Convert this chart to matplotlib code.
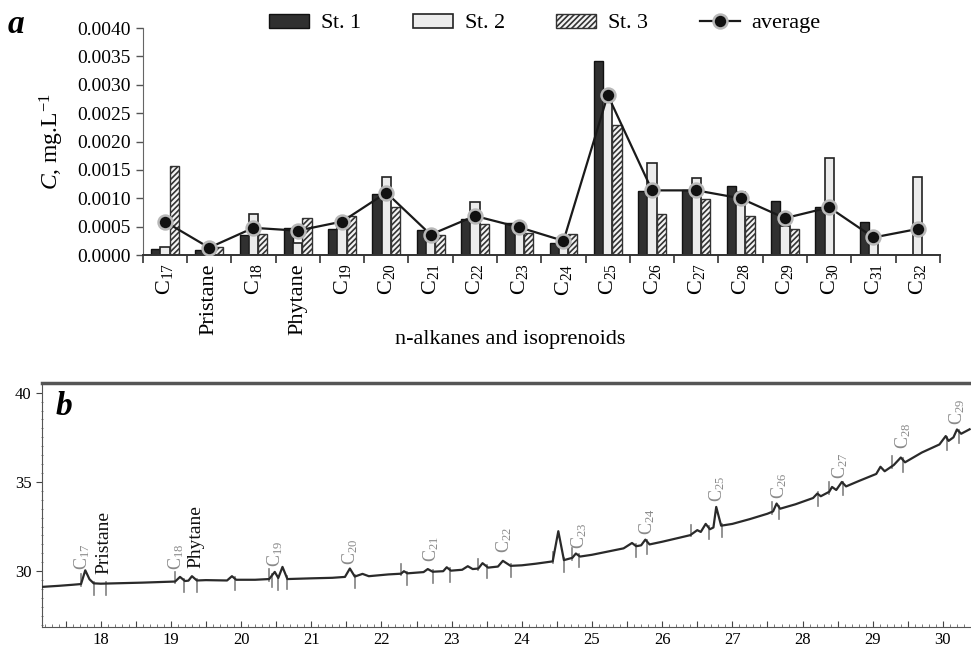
import numpy as np
import matplotlib
matplotlib.use("Agg")
import matplotlib.pyplot as plt
from matplotlib.ticker import MultipleLocator, FixedLocator, NullFormatter, FuncFormatter

plt.rcParams['font.family'] = ['Liberation Serif', 'DejaVu Serif']
plt.rcParams['mathtext.fontset'] = 'custom'
plt.rcParams['mathtext.rm'] = 'Liberation Serif'
plt.rcParams['mathtext.it'] = 'Liberation Serif:italic'
plt.rcParams['hatch.color'] = '#333333'
plt.rcParams['hatch.linewidth'] = 1.2

# ---- panel a data (mg/L) ----
compounds = ['C$_{17}$', 'Pristane', 'C$_{18}$', 'Phytane', 'C$_{19}$', 'C$_{20}$',
             'C$_{21}$', 'C$_{22}$', 'C$_{23}$', 'C$_{24}$', 'C$_{25}$', 'C$_{26}$',
             'C$_{27}$', 'C$_{28}$', 'C$_{29}$', 'C$_{30}$', 'C$_{31}$', 'C$_{32}$']
st1 = [0.00011, 0.00009, 0.00035, 0.00047, 0.00046, 0.00107, 0.00045, 0.00063, 0.00057,
       0.00022, 0.00342, 0.00113, 0.00114, 0.00121, 0.00096, 0.00084, 0.00059, 0.0]
st2 = [0.00014, 0.00016, 0.00072, 0.00022, 0.00062, 0.00138, 0.00025, 0.00094, 0.00049,
       0.00017, 0.00272, 0.00163, 0.00136, 0.00112, 0.00052, 0.00171, 0.00035, 0.00137]
st3 = [0.00157, 0.00014, 0.00038, 0.00065, 0.00068, 0.00084, 0.00035, 0.00055, 0.00039,
       0.00038, 0.00229, 0.00072, 0.00098, 0.00069, 0.00046, 0.0, 0.0, 0.0]
average = [0.00059, 0.00013, 0.00048, 0.00043, 0.00059, 0.00110, 0.00036, 0.00069, 0.00049,
           0.00025, 0.00282, 0.00114, 0.00114, 0.00100, 0.00065, 0.00084, 0.00031, 0.00046]

# ---- panel b data: chromatogram trace (retention time, min ; signal) ----
trace_t = [17.16, 17.40, 17.60, 17.72, 17.78, 17.84, 17.90, 18.00, 18.30, 18.60, 18.90,
           19.06, 19.13, 19.20, 19.25, 19.30, 19.37, 19.50, 19.80, 19.87, 19.93, 20.20,
           20.40, 20.48, 20.53, 20.59, 20.66, 21.00, 21.30, 21.48, 21.55, 21.62, 21.73,
           21.82, 22.10, 22.28, 22.32, 22.37, 22.60, 22.66, 22.73, 22.88, 22.93, 22.99,
           23.15, 23.23, 23.30, 23.38, 23.44, 23.52, 23.66, 23.73, 23.84, 24.00, 24.20,
           24.44, 24.52, 24.60, 24.72, 24.77, 24.83, 25.00, 25.20, 25.45, 25.57, 25.63,
           25.70, 25.76, 25.82, 26.00, 26.25, 26.40, 26.50, 26.55, 26.62, 26.68, 26.73,
           26.77, 26.84, 27.00, 27.25, 27.50, 27.58, 27.63, 27.68, 27.90, 28.15, 28.21,
           28.26, 28.38, 28.42, 28.48, 28.56, 28.62, 28.80, 29.05, 29.11, 29.17, 29.30,
           29.40, 29.46, 29.70, 29.95, 30.04, 30.08, 30.15, 30.20, 30.26, 30.38]
trace_s = [29.12, 29.18, 29.24, 29.28, 30.05, 29.55, 29.32, 29.30, 29.33, 29.36, 29.40,
           29.42, 29.68, 29.45, 29.47, 29.72, 29.48, 29.50, 29.48, 29.72, 29.52, 29.52,
           29.56, 29.96, 29.62, 30.24, 29.56, 29.60, 29.63, 29.68, 30.15, 29.70, 29.85,
           29.72, 29.82, 29.86, 30.00, 29.88, 29.95, 30.12, 29.97, 30.00, 30.22, 30.03,
           30.08, 30.28, 30.12, 30.15, 30.45, 30.20, 30.26, 30.58, 30.30, 30.33, 30.42,
           30.55, 32.24, 30.62, 30.75, 30.99, 30.82, 30.92, 31.08, 31.28, 31.58, 31.40,
           31.45, 31.77, 31.50, 31.65, 31.88, 32.02, 32.30, 32.20, 32.65, 32.35, 32.45,
           33.60, 32.55, 32.65, 32.92, 33.22, 33.35, 33.79, 33.50, 33.75, 34.10, 34.35,
           34.20, 34.45, 34.72, 34.55, 35.00, 34.75, 35.05, 35.45, 35.85, 35.60, 35.95,
           36.37, 36.10, 36.65, 37.10, 37.57, 37.30, 37.50, 37.94, 37.70, 37.95]
marks_up = [17.72, 19.06, 20.40, 22.28, 23.38, 24.44, 24.72, 26.41, 27.56, 28.38, 29.28]
marks_down = [17.90, 18.08, 19.19, 19.37, 19.91, 20.44, 20.53, 20.65, 21.62, 22.37, 22.73,
              22.98, 23.50, 23.85, 24.60, 24.81, 25.62, 25.79, 26.66, 26.85, 27.67, 28.22,
              28.58, 29.43, 30.06, 30.23]
peak_labels = ['C$_{17}$', 'Pristane', 'C$_{18}$', 'Phytane', 'C$_{19}$', 'C$_{20}$',
               'C$_{21}$', 'C$_{22}$', 'C$_{23}$', 'C$_{24}$', 'C$_{25}$', 'C$_{26}$',
               'C$_{27}$', 'C$_{28}$', 'C$_{29}$']
label_t = [17.74, 18.04, 19.07, 19.36, 20.48, 21.55, 22.71, 23.75, 24.82, 25.79, 26.79,
           27.67, 28.54, 29.44, 30.20]
label_s = [30.07, 29.85, 30.07, 30.20, 30.25, 30.35, 30.53, 31.00, 31.27, 32.00, 33.87,
           34.06, 35.18, 36.82, 38.17]

fig = plt.figure(figsize=(9.71, 6.54), dpi=100)

# ================= panel a =================
ax = fig.add_axes([0.147, 0.610, 0.821, 0.347])
x = np.arange(len(compounds))
w = 0.21
b1 = ax.bar(x - w, st1, w, color='#303030', edgecolor='#111111', linewidth=1.0, label='St. $\\mathit{1}$')
b2 = ax.bar(x, st2, w, color='#ececec', edgecolor='#222222', linewidth=1.2, label='St. $\\mathit{2}$')
b3 = ax.bar(x + w, st3, w, color='#f4f4f4', edgecolor='#333333', linewidth=1.0,
            hatch='//////', label='St. $\\mathit{3}$')
ln, = ax.plot(x, average, '-o', color='#1a1a1a', lw=1.6, ms=10, mfc='#111111',
              mec='#b8b8b8', mew=1.8, zorder=4, label='average')

ax.set_xlim(-0.5, len(compounds) - 0.5)
ax.set_ylim(0, 0.004)
ax.yaxis.set_major_locator(MultipleLocator(0.0005))
ax.yaxis.set_major_formatter(FuncFormatter(lambda v, p: '%.4f' % v))
ax.xaxis.set_major_locator(FixedLocator(np.arange(-0.5, len(compounds), 1.0)))
ax.xaxis.set_major_formatter(NullFormatter())
ax.xaxis.set_minor_locator(FixedLocator(x))
ax.set_xticklabels(compounds, minor=True, rotation=90, fontsize=16)
ax.tick_params(axis='x', which='minor', length=0, pad=6)
ax.tick_params(axis='x', which='major', length=6, width=1.2, color='#333333', direction='out')
ax.tick_params(axis='y', labelsize=14, length=5, width=1.0, color='#555555')
for s in ['top', 'right']:
    ax.spines[s].set_visible(False)
ax.spines['left'].set_color('#666666')
ax.spines['bottom'].set_color('#333333')
ax.spines['bottom'].set_linewidth(1.4)
ax.set_ylabel('$\\mathit{C}$, mg.L$^{-1}$', fontsize=17, labelpad=8)
ax.set_xlabel('n-alkanes and isoprenoids', fontsize=16)
ax.xaxis.set_label_coords((510 - 143) / 797, -0.33)
fig.text(0.008, 0.962, 'a', fontsize=24, fontweight='bold', style='italic', va='center')

fig.legend(handles=[b1, b2, b3, ln], loc='center', bbox_to_anchor=(0.561, 0.964), ncol=4,
           frameon=False, fontsize=16, handlelength=1.8, handleheight=0.6,
           columnspacing=2.3, handletextpad=0.5)

# ================= panel b =================
bx = fig.add_axes([0.043, 0.042, 0.957, 0.372])
bx.plot(trace_t, trace_s, color='#2a2a2a', lw=1.6, zorder=3)
for t in marks_up:
    yb = np.interp(t, trace_t, trace_s)
    bx.plot([t, t], [yb - 0.1, yb + 0.55], color='#808080', lw=1.2, zorder=2)
for t in marks_down:
    yb = np.interp(t, trace_t, trace_s)
    bx.plot([t, t], [yb + 0.1, yb - 0.65], color='#808080', lw=1.2, zorder=2)
for lab, t, s in zip(peak_labels, label_t, label_s):
    if lab in ('Pristane', 'Phytane'):
        bx.text(t, s, lab, rotation=90, ha='center', va='bottom', fontsize=14, color='#111111')
    else:
        bx.text(t, s, lab, rotation=90, ha='center', va='bottom', fontsize=13, color='#8a8a8a')

bx.set_xlim(17.16, 30.4)
bx.set_ylim(26.9, 40.53)
bx.xaxis.set_major_locator(MultipleLocator(0.5))
bx.xaxis.set_major_formatter(FuncFormatter(lambda v, p: '%d' % v if abs(v - round(v)) < 1e-6 else ''))
bx.xaxis.set_minor_locator(MultipleLocator(0.1))
bx.yaxis.set_major_locator(MultipleLocator(5))
bx.yaxis.set_minor_locator(MultipleLocator(0.5))
bx.tick_params(axis='x', which='major', direction='in', length=4, labelsize=12, color='#444444', pad=4)
bx.tick_params(axis='x', which='minor', direction='in', length=2, color='#666666')
bx.tick_params(axis='y', which='major', direction='out', length=4, labelsize=12, color='#444444')
bx.tick_params(axis='y', which='minor', direction='inout', length=2, color='#666666')
bx.spines['right'].set_visible(False)
bx.spines['top'].set_linewidth(2.5)
bx.spines['top'].set_color('#555555')
bx.spines['left'].set_color('#555555')
bx.spines['bottom'].set_color('#555555')
bx.text(17.48, 39.2, 'b', fontsize=24, fontweight='bold', style='italic', va='center', ha='center')

fig.savefig('out.png', dpi=100)
